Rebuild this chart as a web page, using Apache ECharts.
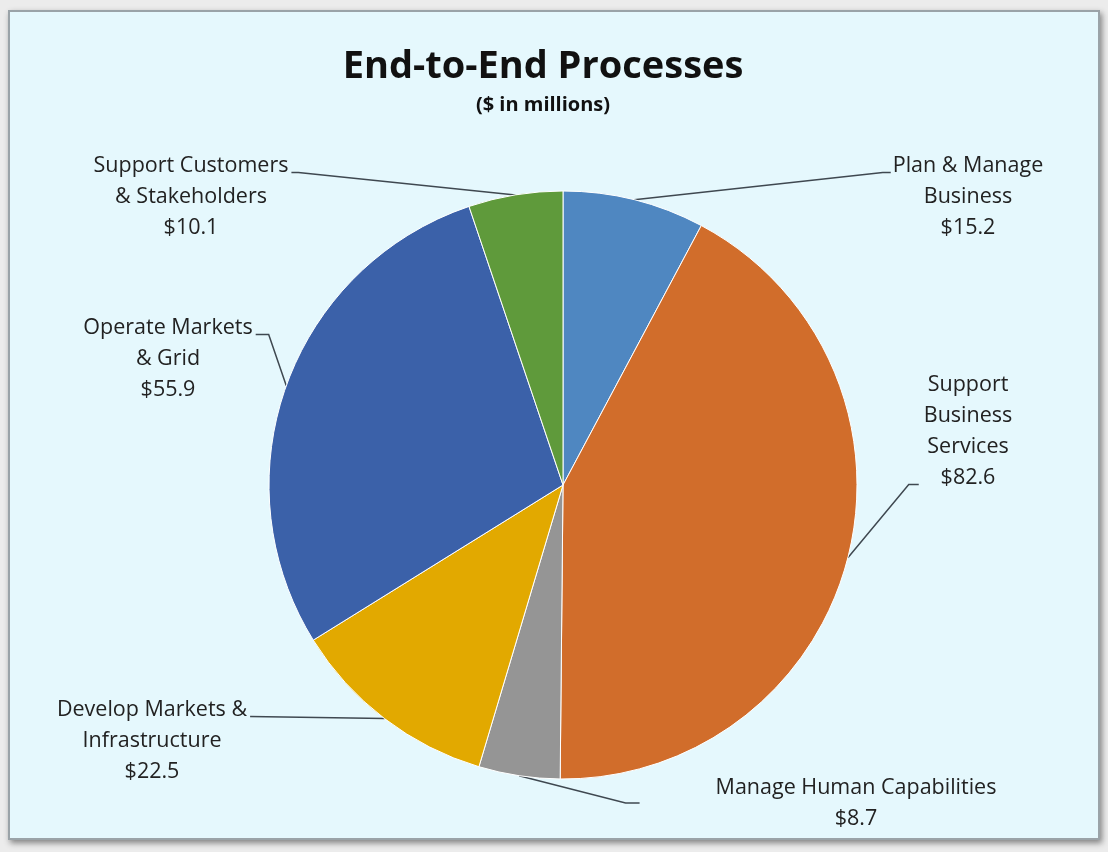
<!DOCTYPE html>
<html>
<head>
<meta charset="utf-8">
<script src="https://cdn.jsdelivr.net/npm/echarts@6/dist/echarts.min.js"></script>
<style>
  html, body { margin: 0; padding: 0; width: 1108px; height: 852px; background: #ececec; overflow: hidden; }
  #frame { position: absolute; left: 8px; top: 10px; width: 1088px; height: 826px; background: #e5f8fd; border: 2px solid #9aa3a8; box-shadow: 2px 3px 6px rgba(0,0,0,0.45); }
  #chart { position: absolute; left: 0; top: 0; width: 1108px; height: 852px; }
</style>
</head>
<body>
<div id="frame"></div>
<div id="chart"></div>
<script>
const categories = [
  'Plan & Manage\nBusiness',
  'Support\nBusiness\nServices',
  'Manage Human Capabilities',
  'Develop Markets &\nInfrastructure',
  'Operate Markets\n& Grid',
  'Support Customers\n& Stakeholders'
];
const values = [15.2, 82.6, 8.7, 22.5, 55.9, 10.1];
const colors = ['#4f87c1', '#d16d2b', '#959595', '#e2a900', '#3b61a9', '#5f9a3b'];

const LH = 31;
const labelPos = [
  { x: 968, y: 150 },
  { x: 968, y: 369 },
  { x: 856, y: 772 },
  { x: 152, y: 694 },
  { x: 168, y: 312 },
  { x: 191, y: 150 }
];

function guide(i, p0, w) {
  const x = labelPos[i].x, y = labelPos[i].y;
  const left = x - w / 2, right = x + w / 2;
  const base = (k) => y + LH * k + LH / 2 + 7;
  switch (i) {
    case 0: return [p0, [left - 10, base(0)], [left - 2, base(0)]];
    case 1: return [p0, [left - 15, base(3)], [left - 5, base(3)]];
    case 2: return [p0, [left - 90, y + LH], [left - 76, y + LH]];
    case 3: return [p0, [right + 3, base(0)]];
    case 4: return [p0, [right + 16, base(0)], [right + 3, base(0)]];
    case 5: return [p0, [right + 10, base(0)], [right + 3, base(0)]];
  }
}

const chart = echarts.init(document.getElementById('chart'), null, { renderer: 'canvas' });
chart.setOption({
  backgroundColor: 'transparent',
  animation: false,
  title: {
    text: 'End-to-End Processes',
    subtext: '($ in millions)',
    left: 538,
    textAlign: 'center',
    top: 43,
    itemGap: 9,
    textStyle: { fontFamily: 'Open Sans', fontWeight: 'bold', fontSize: 38, color: '#111' },
    subtextStyle: { fontFamily: 'Open Sans', fontWeight: 'bold', fontSize: 20, color: '#111' }
  },
  series: [{
    type: 'pie',
    center: [563, 485],
    radius: 294,
    startAngle: 90,
    clockwise: true,
    data: categories.map((c, i) => ({ name: c, value: values[i], itemStyle: { color: colors[i] } })),
    itemStyle: { borderColor: '#ffffff', borderWidth: 1 },
    label: {
      show: true,
      formatter: p => p.name + '\n$' + p.value.toFixed(1),
      fontFamily: 'Open Sans',
      fontSize: 21.5,
      lineHeight: LH,
      color: '#222',
      align: 'center'
    },
    labelLine: { show: true, lineStyle: { color: '#3f4850', width: 1.5 }, length: 20, length2: 20 },
    labelLayout: p => {
      const i = p.dataIndex;
      const p0 = p.labelLinePoints ? p.labelLinePoints[0] : null;
      const out = {
        x: labelPos[i].x,
        y: labelPos[i].y,
        align: 'center',
        verticalAlign: 'top'
      };
      if (p0) out.labelLinePoints = guide(i, p0, p.labelRect.width);
      return out;
    },
    emphasis: { disabled: true }
  }]
});
</script>
</body>
</html>
